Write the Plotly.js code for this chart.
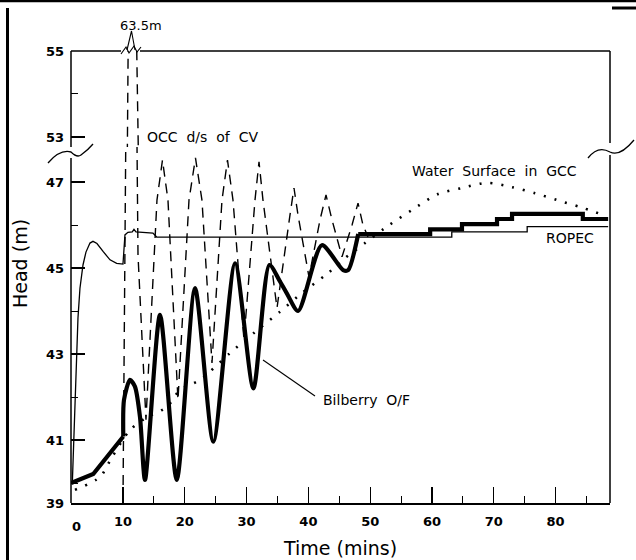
<!DOCTYPE html>
<html><head><meta charset="utf-8">
<script src="https://cdn.plot.ly/plotly-3.0.1.min.js"></script>
<style>html,body{margin:0;padding:0;background:#fff}</style>
</head><body><div id="chart" style="width:636px;height:560px"></div>
<script>
// ---- data (time in minutes, head in metres) ----
const bilberryTime = [1.6, 5.19, 10.05, 10.16, 11.13, 11.94, 12.75, 13.56, 15.99, 18.70, 21.66, 24.62, 28.14, 31.10, 33.69, 35.43, 36.51, 38.34, 42.18, 45.63, 46.44, 48.06];
const bilberryHead = [40.0, 40.21, 41.08, 41.93, 42.40, 42.24, 41.54, 40.07, 43.91, 40.07, 44.53, 40.96, 45.11, 42.20, 45.07, 44.68, 44.41, 44.0, 45.53, 44.95, 44.95, 45.79];
const bilberryStepTime = [48.06, 59.7, 64.85, 70.52, 72.95, 84.4, 88.5];
const bilberryStepHead = [45.79, 45.90, 46.02, 46.14, 46.26, 46.14, 46.14];

const ropecTime = [1.8, 2.07, 2.39, 2.72, 3.04, 3.53, 4.01, 4.66, 5.15, 5.79, 6.81, 7.9, 8.98, 10.0, 10.32, 10.8, 11.5, 11.78, 12.1, 14.85, 15.45, 63.2, 63.2, 75.4, 75.4, 88.5];
const ropecHead = [39.98, 41.23, 42.63, 43.84, 44.53, 45.07, 45.37, 45.58, 45.62, 45.57, 45.38, 45.19, 45.11, 45.09, 45.77, 45.83, 45.84, 45.90, 45.84, 45.81, 45.72, 45.72, 45.84, 45.84, 45.96, 45.96];

const occTime = [10.0, 11.29, 12.43, 13.72, 15.50, 16.39, 17.28, 18.90, 20.68, 21.73, 22.78, 24.40, 26.02, 26.91, 27.80, 29.58, 31.36, 32.01, 32.65, 34.92, 37.02, 37.67, 38.32, 40.10, 41.88, 42.85, 43.82, 45.44, 47.06, 48.03, 48.83, 49.64];
const occHead = [39.56, 63.5, 45.3, 41.47, 46.58, 47.51, 46.58, 41.93, 46.58, 47.56, 46.58, 42.79, 46.58, 47.51, 46.58, 43.33, 46.58, 47.47, 46.58, 44.07, 46.23, 46.86, 46.23, 44.79, 46.12, 46.70, 46.12, 45.26, 46.0, 46.51, 46.0, 45.72];

const gccTime = [2.23, 6.28, 8.22, 11.13, 13.88, 17.12, 19.22, 22.46, 27.31, 31.36, 35.40, 38.96, 43.17, 45.92, 49.16, 52.39, 56.76, 60.97, 64.85, 68.90, 72.95, 76.67, 80.23, 83.95, 87.18];
const gccHead = [39.84, 40.14, 40.60, 41.23, 41.53, 41.77, 42.16, 42.40, 43.02, 43.51, 43.98, 44.42, 44.88, 45.23, 45.58, 45.93, 46.35, 46.72, 46.86, 46.98, 46.88, 46.74, 46.58, 46.42, 46.26];

const xTickVals = [10, 20, 30, 40, 50, 60, 70, 80];
const xTickText = ['10', '20', '30', '40', '50', '60', '70', '80'];
const xMinorVals = [15, 25, 35, 45, 55, 65, 75, 85];
const yLowTickVals = [39.535, 41, 43, 45, 47];
const yLowTickText = ['39', '41', '43', '45', '47'];
const yLowMinorVals = [40, 42, 44, 46];
const yHighTickVals = [53, 55];
const yHighTickText = ['53', '55'];
const yHighMinorVals = [54];

// ---- layout geometry (pixels of the 636x560 page) ----
const L = 71, R = 610, T = 51, B = 503;
const W = R - L, H = B - T;
const BREAK = 147;
const px = x => (x - L) / W;
const py = y => (B - y) / H;
function pathOf(cmds) {
  return cmds.map(c => c[0] + c.slice(1).map((v, i) => (i % 2 === 0 ? px(v) : py(v)).toFixed(5)).reduce((s, v, i) => s + (i % 2 === 0 ? (i ? ' ' : '') + v : ',' + v), '')).join(' ');
}
function seg(x0, y0, x1, y1, w) {
  return {type: 'line', xref: 'paper', yref: 'paper', x0: px(x0), y0: py(y0), x1: px(x1), y1: py(y1), line: {color: '#000', width: w || 1.5}};
}
function pth(cmds, w) {
  return {type: 'path', xref: 'paper', yref: 'paper', path: pathOf(cmds), line: {color: '#000', width: w || 1.3}};
}

const black = '#000';
const nLinear = 3; // first Bilberry segments are straight
const traces = [];
['y', 'y2'].forEach(ya => {
  traces.push({x: occTime, y: occHead, xaxis: 'x', yaxis: ya, mode: 'lines', line: {color: black, width: 1.4, dash: '10px,7px'}, hoverinfo: 'skip'});
  traces.push({x: gccTime, y: gccHead, xaxis: 'x', yaxis: ya, mode: 'lines', line: {color: black, width: 2.6, dash: '2px,9px', shape: 'spline', smoothing: 0.8}, hoverinfo: 'skip'});
  traces.push({x: ropecTime, y: ropecHead, xaxis: 'x', yaxis: ya, mode: 'lines', line: {color: black, width: 1.3}, hoverinfo: 'skip'});
  traces.push({x: bilberryTime.slice(0, nLinear), y: bilberryHead.slice(0, nLinear), xaxis: 'x', yaxis: ya, mode: 'lines', line: {color: black, width: 4.2}, hoverinfo: 'skip'});
  traces.push({x: bilberryTime.slice(nLinear - 1), y: bilberryHead.slice(nLinear - 1), xaxis: 'x', yaxis: ya, mode: 'lines', line: {color: black, width: 4.2, shape: 'spline', smoothing: 0.7}, hoverinfo: 'skip'});
  traces.push({x: bilberryStepTime, y: bilberryStepHead, xaxis: 'x', yaxis: ya, mode: 'lines', line: {color: black, width: 4.2, shape: 'hv'}, hoverinfo: 'skip'});
});

const tickFont = {family: 'DejaVu Sans', size: 13, color: black, weight: 'bold'};
const layout = {
  width: 636, height: 560,
  margin: {l: L, r: 636 - R, t: T, b: 560 - B, pad: 0},
  paper_bgcolor: '#fff', plot_bgcolor: '#fff',
  showlegend: false,
  xaxis: {
    range: [1.59, 88.8], domain: [0, 1], anchor: 'y',
    tickmode: 'array', tickvals: xTickVals, ticktext: xTickText,
    ticks: 'inside', ticklen: 16, tickwidth: 1.2, tickcolor: black,
    minor: {tickmode: 'array', tickvals: xMinorVals, ticks: 'inside', ticklen: 7, tickwidth: 1, tickcolor: black},
    showline: true, linecolor: black, linewidth: 1.6,
    showgrid: false, zeroline: false, tickfont: tickFont, ticklabelstandoff: 6,
    title: {text: 'Time (mins)', font: {family: 'DejaVu Sans', size: 19, color: black}, standoff: 13}
  },
  yaxis: {
    domain: [0, (B - BREAK) / H], range: [39.535, 47.814], anchor: 'x',
    tickmode: 'array', tickvals: yLowTickVals, ticktext: yLowTickText,
    ticks: 'inside', ticklen: 14, tickwidth: 1.2, tickcolor: black,
    minor: {tickmode: 'array', tickvals: yLowMinorVals, ticks: 'inside', ticklen: 7, tickwidth: 1, tickcolor: black},
    showline: false, showgrid: false, zeroline: false, tickfont: tickFont, ticklabelstandoff: 6
  },
  yaxis2: {
    domain: [(B - BREAK) / H, 1], range: [52.767, 55], anchor: 'x',
    tickmode: 'array', tickvals: yHighTickVals, ticktext: yHighTickText,
    ticks: 'inside', ticklen: 14, tickwidth: 1.2, tickcolor: black,
    minor: {tickmode: 'array', tickvals: yHighMinorVals, ticks: 'inside', ticklen: 7, tickwidth: 1, tickcolor: black},
    showline: false, showgrid: false, zeroline: false, tickfont: tickFont, ticklabelstandoff: 6
  },
  shapes: [
    seg(L, T, L, 147), seg(L, 158, L, B),
    seg(R, T, R, 143), seg(R, 155, R, B),
    seg(L, T, 121, T), seg(140, T, R, T),
    pth([['M', 48, 163], ['Q', 60, 149, 71, 152], ['Q', 77, 158, 81, 155], ['Q', 88, 150, 93, 144]]),
    pth([['M', 588, 158], ['Q', 598, 145, 610, 152], ['Q', 620, 157, 634, 140]]),
    pth([['M', 127, 50], ['L', 131.5, 31], ['L', 135, 50]], 1.1),
    pth([['M', 121, 54], ['L', 126, 47], ['L', 129, 53], ['L', 134, 46], ['L', 137, 52], ['L', 141, 47]], 1.1),
    seg(263, 360, 315, 396, 1.1),
    seg(0, 1, 636, 1, 2.5),
    seg(7.5, 8, 7.5, 560, 3),
    seg(612, 8, 636, 8, 3)
  ],
  annotations: [
    {text: 'Head (m)', xref: 'paper', yref: 'paper', x: px(20), y: py(264), textangle: -90, showarrow: false, font: {family: 'DejaVu Sans', size: 19, color: black}, xanchor: 'center', yanchor: 'middle'},
    {text: '0', xref: 'paper', yref: 'paper', x: px(76), y: py(526), showarrow: false, font: tickFont, xanchor: 'center', yanchor: 'middle'},
    {text: '63.5m', xref: 'paper', yref: 'paper', x: px(141), y: py(25), showarrow: false, font: {family: 'DejaVu Sans', size: 13, color: black}, xanchor: 'center', yanchor: 'middle'},
    {text: 'OCC  d/s  of  CV', xref: 'paper', yref: 'paper', x: px(202), y: py(137), showarrow: false, font: {family: 'DejaVu Sans', size: 14, color: black}, xanchor: 'center', yanchor: 'middle'},
    {text: 'Water  Surface  in  GCC', xref: 'paper', yref: 'paper', x: px(495), y: py(171), showarrow: false, font: {family: 'DejaVu Sans', size: 14, color: black}, xanchor: 'center', yanchor: 'middle'},
    {text: 'ROPEC', xref: 'paper', yref: 'paper', x: px(570), y: py(238), showarrow: false, font: {family: 'DejaVu Sans', size: 14, color: black}, xanchor: 'center', yanchor: 'middle'},
    {text: 'Bilberry  O/F', xref: 'paper', yref: 'paper', x: px(366), y: py(400), showarrow: false, font: {family: 'DejaVu Sans', size: 14, color: black}, xanchor: 'center', yanchor: 'middle'}
  ]
};
Plotly.newPlot('chart', traces, layout, {displayModeBar: false, staticPlot: true});
</script></body></html>
